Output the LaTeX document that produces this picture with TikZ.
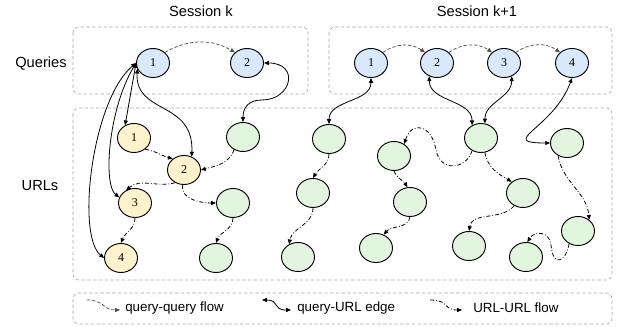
\documentclass[tikz,border=0pt]{standalone}
\usepackage{fontspec}
\setmainfont{Liberation Serif}
\setsansfont{Liberation Sans}
\usetikzlibrary{arrows.meta,shapes.geometric}

\definecolor{qfill}{HTML}{DAE8FC}
\definecolor{sfill}{HTML}{FFF2CC}
\definecolor{gfill}{HTML}{E2F5DE}
\definecolor{boxgray}{HTML}{A6A6A6}
\definecolor{flowgray}{HTML}{505050}

\tikzset{
  urlnode/.style={draw, ellipse, fill=gfill, line width=0.7pt,
    minimum width=24.75pt, minimum height=21.75pt, inner sep=0pt,
    font=\rmfamily\fontsize{9}{9}\selectfont},
  qnode/.style={urlnode, fill=qfill},
  snode/.style={urlnode, fill=sfill},
  panel/.style={draw=boxgray, line width=0.5pt, rounded corners=4.5pt,
    dash pattern=on 2.5pt off 1.8pt},
  tip/.tip={Triangle[length=3.6pt,width=3pt]},
  qqflow/.style={-tip, draw=flowgray, line width=0.55pt,
    dash pattern=on 2.5pt off 1.5pt},
  quedge/.style={tip-tip, line width=0.6pt},
  uuflow/.style={-tip, line width=0.6pt,
    dash pattern=on 3pt off 1.5pt on 0.6pt off 1.5pt},
  lbl/.style={font=\sffamily\fontsize{11}{13}\selectfont},
  leg/.style={font=\sffamily\fontsize{10}{12}\selectfont, anchor=west,
    inner sep=0pt}
}

\begin{document}
\begin{tikzpicture}[scale=0.75]
  \useasboundingbox (0pt,0pt) rectangle (619pt,-327pt);

  % panels
  \draw[panel] (73pt,-27pt) rectangle (308pt,-94pt);
  \draw[panel] (329pt,-27pt) rectangle (612pt,-94pt);
  \draw[panel] (73pt,-108pt) rectangle (612pt,-280pt);
  \draw[panel] (73pt,-293pt) rectangle (612pt,-324pt);

  \node[lbl] (sk) at (201pt,-11pt) {Session k};
  \node[lbl] (sk1) at (477pt,-11pt) {Session k+1};
  \node[lbl] (qlbl) at (41pt,-64pt) {Queries};
  \node[lbl] (ulbl) at (40pt,-186pt) {URLs};

  % queries
  \node[qnode] (qa1) at (153pt,-63pt) {1};
  \node[qnode] (qa2) at (247pt,-63pt) {2};
  \node[qnode] (qb1) at (371pt,-63pt) {1};
  \node[qnode] (qb2) at (437pt,-63pt) {2};
  \node[qnode] (qb3) at (504pt,-63pt) {3};
  \node[qnode] (qb4) at (572pt,-63pt) {4};

  % clicked urls of session k
  \node[snode] (ua1) at (134pt,-138pt) {1};
  \node[snode] (ua2) at (184pt,-170pt) {2};
  \node[snode] (ua3) at (135pt,-203pt) {3};
  \node[snode] (ua4) at (121pt,-258pt) {4};

  % other urls
  \node[urlnode] (ga1) at (243pt,-137pt) {};
  \node[urlnode] (ga2) at (233pt,-203pt) {};
  \node[urlnode] (ga3) at (216pt,-258pt) {};
  \node[urlnode] (gb1) at (329pt,-139pt) {};
  \node[urlnode] (gb2) at (313pt,-193pt) {};
  \node[urlnode] (gb3) at (298pt,-257pt) {};
  \node[urlnode] (gc1) at (394pt,-156pt) {};
  \node[urlnode] (gc2) at (410pt,-202pt) {};
  \node[urlnode] (gc3) at (376pt,-248pt) {};
  \node[urlnode] (gd1) at (481pt,-138pt) {};
  \node[urlnode] (gd2) at (523pt,-193pt) {};
  \node[urlnode] (gd3) at (469pt,-246pt) {};
  \node[urlnode] (ge1) at (567pt,-143pt) {};
  \node[urlnode] (ge2) at (578pt,-231pt) {};
  \node[urlnode] (ge3) at (526pt,-257pt) {};

  % query-query flow
  \draw[qqflow] (qa1.north east) to[bend left=30] (qa2.north west);
  \draw[qqflow] (qb1.north east) to[bend left=35] (qb2.north west);
  \draw[qqflow] (qb2.north east) to[bend left=35] (qb3.north west);
  \draw[qqflow] (qb3.north east) to[bend left=35] (qb4.north west);

  % query-URL edges
  \draw[quedge] (qa1.west) to[out=-100,in=80] (ua1.125);
  \draw[quedge] (qa1.200) .. controls (135pt,-115pt) and (194pt,-100pt)
    .. (ua2.60);
  \draw[quedge] (qa1.west) .. controls (108pt,-110pt) and (103pt,-185pt)
    .. (ua3.160);
  \draw[quedge] (qa1.west) .. controls (92pt,-100pt) and (76pt,-235pt)
    .. (ua4.west);
  \draw[quedge] (qa2.east) .. controls (300pt,-63pt) and (292pt,-100pt)
    .. (262pt,-100pt) .. controls (248pt,-100pt) and (243pt,-108pt)
    .. (ga1.north);
  \draw[quedge] (qb1.south) to[out=-90,in=90] (gb1.north);
  \draw[quedge] (qb2.240) to[out=-90,in=90] (gd1.125);
  \draw[quedge] (qb3.300) to[out=-90,in=90] (gd1.75);
  \draw[quedge] (qb4.south) to[out=-110,in=180,looseness=2] (ge1.west);

  % URL-URL flow
  \draw[uuflow] (ua1.-45) to[out=-10,in=165] (ua2.135);
  \draw[uuflow] (ga1.235) to[out=-110,in=15] (ua2.east);
  \draw[uuflow] (ua2.235) to[out=195,in=40] (ua3.125);
  \draw[uuflow] (ua2.265) to[out=-100,in=180] (ga2.west);
  \draw[uuflow] (ua3.south) to[out=-90,in=70] (ua4.north);
  \draw[uuflow] (ga2.south) to[out=-90,in=70] (ga3.north);
  \draw[uuflow] (gb1.south) to[out=-90,in=60] (gb2.north);
  \draw[uuflow] (gb2.south) to[out=-90,in=80] (gb3.125);
  \draw[uuflow] (gc1.south) to[out=-70,in=120] (gc2.100);
  \draw[uuflow] (gc2.south) to[out=-100,in=50] (gc3.60);
  \draw[uuflow] (gd1.235) .. controls (466pt,-170pt) and (440pt,-172pt)
    .. (436pt,-150pt) .. controls (432pt,-125pt) and (412pt,-120pt)
    .. (gc1.50);
  \draw[uuflow] (gd1.285) to[out=-80,in=150] (gd2.135);
  \draw[uuflow] (gd2.235) to[out=-130,in=80] (gd3.north);
  \draw[uuflow] (ge1.235) to[out=-80,in=95] (ge2.45);
  \draw[uuflow] (ge2.235) .. controls (566pt,-262pt) and (553pt,-268pt)
    .. (551pt,-245pt) .. controls (550pt,-232pt) and (535pt,-230pt)
    .. (ge3.85);

  % legend
  \coordinate (lqqa) at (87pt,-300pt);
  \coordinate (lqqb) at (120pt,-310pt);
  \coordinate (lqua) at (262pt,-300pt);
  \coordinate (lqub) at (291pt,-310pt);
  \coordinate (luua) at (430pt,-300pt);
  \coordinate (luub) at (462pt,-310pt);
  \draw[qqflow] (lqqa) .. controls (105pt,-300pt) and (102pt,-310pt) .. (lqqb);
  \draw[quedge] (lqua) .. controls (280pt,-300pt) and (272pt,-310pt) .. (lqub);
  \draw[uuflow] (luua) .. controls (450pt,-300pt) and (442pt,-310pt) .. (luub);
  \node[leg] (lqq) at (125pt,-308pt) {query-query flow};
  \node[leg] (lqu) at (297pt,-308pt) {query-URL edge};
  \node[leg] (luu) at (473pt,-308pt) {URL-URL flow};

\end{tikzpicture}
\end{document}
